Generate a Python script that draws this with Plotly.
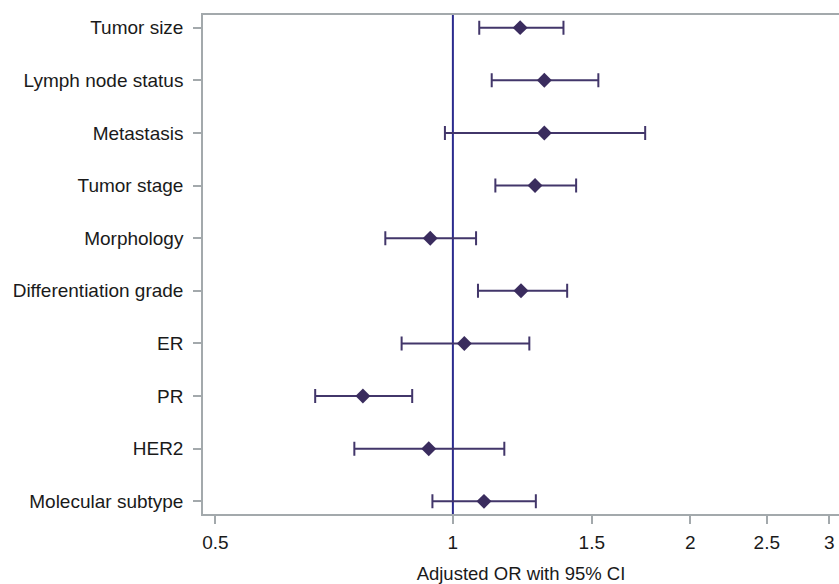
import plotly.graph_objects as go

categories = ["Tumor size", "Lymph node status", "Metastasis", "Tumor stage",
              "Morphology", "Differentiation grade", "ER", "PR", "HER2",
              "Molecular subtype"]
odds_ratio = [1.217, 1.306, 1.306, 1.271, 0.936, 1.220, 1.034, 0.769, 0.932, 1.095]
ci_lower = [1.080, 1.120, 0.977, 1.132, 0.821, 1.076, 0.861, 0.669, 0.750, 0.942]
ci_upper = [1.381, 1.529, 1.753, 1.433, 1.070, 1.396, 1.250, 0.888, 1.162, 1.274]
x_ticks = [0.5, 1, 1.5, 2, 2.5, 3]
x_tick_labels = ["0.5", "1", "1.5", "2", "2.5", "3"]

err_plus = [u - o for u, o in zip(ci_upper, odds_ratio)]
err_minus = [o - l for o, l in zip(odds_ratio, ci_lower)]

FONT = "Arial, Liberation Sans, sans-serif"
AXIS_GRAY = "#a3a9ac"

fig = go.Figure()
fig.add_trace(go.Scatter(
    x=odds_ratio, y=categories, mode="markers",
    marker=dict(symbol="diamond", size=11.5, color="#3a2c5e"),
    error_x=dict(type="data", symmetric=False, array=err_plus,
                 arrayminus=err_minus, color="#42366a", thickness=2, width=7),
    showlegend=False, hoverinfo="x+y",
))

fig.add_shape(type="line", xref="x", yref="paper", x0=1, x1=1, y0=0, y1=1,
              line=dict(color="#2b2b8e", width=2), layer="below")

fig.update_layout(
    width=839, height=584,
    margin=dict(l=203, r=0, t=15, b=70, autoexpand=False),
    paper_bgcolor="white", plot_bgcolor="white",
    font=dict(family=FONT, size=19, color="#1a1a1a"),
)
fig.update_xaxes(
    type="log", range=[-0.3168, 0.4895], automargin=False,
    tickvals=x_ticks, ticktext=x_tick_labels,
    ticks="outside", ticklen=8, tickcolor=AXIS_GRAY, tickwidth=1.5,
    showline=True, linecolor=AXIS_GRAY, linewidth=1.5, mirror=True,
    showgrid=False, zeroline=False,
    ticklabelstandoff=2,
    tickfont=dict(family=FONT, size=19, color="#1a1a1a"),
    title=dict(text="Adjusted OR with 95% CI", standoff=19,
               font=dict(family=FONT, size=18.5, color="#1a1a1a")),
)
fig.update_yaxes(
    type="category", categoryorder="array", categoryarray=categories,
    range=[9.24, -0.24], automargin=False,
    ticks="outside", ticklen=8, tickcolor=AXIS_GRAY, tickwidth=1.5,
    showline=True, linecolor=AXIS_GRAY, linewidth=1.5, mirror=False,
    showgrid=False, zeroline=False,
    ticklabelstandoff=6,
    tickfont=dict(family=FONT, size=19, color="#1a1a1a"),
)

fig.write_html(
    "out.html",
    config={"displayModeBar": False},
    post_script="document.body.style.margin='0';document.body.style.overflow='hidden';",
)
